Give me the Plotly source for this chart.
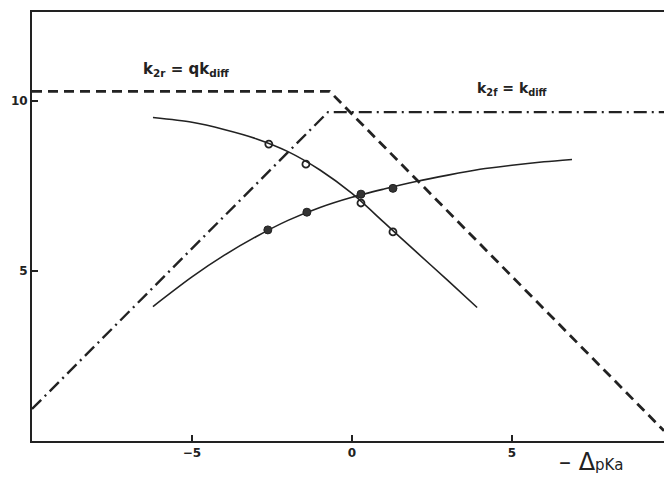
import plotly.graph_objects as go

# Limiting lines
k2r_x = [-10.0, -0.7, 9.75]
k2r_y = [10.27, 10.27, 0.3]
k2f_x = [-10.0, -0.75, 9.75]
k2f_y = [0.94, 9.66, 9.66]

# Smooth curves
dec_x = [-6.22, -5, -4, -3, -2, -1, 0, 1, 2, 3, 3.91]
dec_y = [9.50, 9.36, 9.15, 8.88, 8.50, 7.96, 7.27, 6.42, 5.56, 4.71, 3.92]
inc_x = [-6.22, -5, -4, -3, -2, -1, 0, 1, 2, 3, 4, 5, 6, 6.875]
inc_y = [3.95, 4.82, 5.45, 6.00, 6.48, 6.86, 7.16, 7.40, 7.62, 7.81, 7.98, 8.10, 8.20, 8.27]

# Data points
open_x = [-2.6, -1.44, 0.28, 1.28]
open_y = [8.72, 8.13, 6.99, 6.14]
fill_x = [-2.63, -1.41, 0.28, 1.28]
fill_y = [6.20, 6.72, 7.25, 7.42]

xticks = [-5, 0, 5]
yticks = [5, 10]

ink = "#222222"
fig = go.Figure()
fig.add_trace(go.Scatter(x=k2r_x, y=k2r_y, mode="lines",
                         line=dict(color=ink, width=2.8, dash="10px,6px")))
fig.add_trace(go.Scatter(x=k2f_x, y=k2f_y, mode="lines",
                         line=dict(color=ink, width=2.4, dash="13px,5px,2px,5px")))
fig.add_trace(go.Scatter(x=dec_x, y=dec_y, mode="lines",
                         line=dict(color=ink, width=1.6, shape="spline", smoothing=0.8)))
fig.add_trace(go.Scatter(x=inc_x, y=inc_y, mode="lines",
                         line=dict(color=ink, width=1.6, shape="spline", smoothing=0.8)))
fig.add_trace(go.Scatter(x=open_x, y=open_y, mode="markers",
                         marker=dict(symbol="circle-open", size=7, color=ink,
                                     line=dict(width=1.8, color=ink))))
fig.add_trace(go.Scatter(x=fill_x, y=fill_y, mode="markers",
                         marker=dict(symbol="circle", size=8, color="#333333",
                                     line=dict(width=1, color=ink))))

font_b = dict(family="DejaVu Sans, Liberation Sans, sans-serif", color=ink, weight="bold")
fig.add_annotation(x=-5.2, y=10.9, xref="x", yref="y", showarrow=False,
                   text="k<sub>2r</sub> = qk<sub>diff</sub>",
                   font=dict(size=15, **font_b))
fig.add_annotation(x=5.0, y=10.35, xref="x", yref="y", showarrow=False,
                   text="k<sub>2f</sub> = k<sub>diff</sub>",
                   font=dict(size=14, **font_b))
fig.add_annotation(x=0.885, y=-0.048, xref="paper", yref="paper", showarrow=False,
                   xanchor="center", yanchor="middle",
                   text="– Δ<span style='font-size:15px'>pKa</span>",
                   font=dict(size=24, family="DejaVu Sans, sans-serif", color=ink))

fig.update_layout(
    width=664, height=479,
    margin=dict(l=32, r=0, t=12, b=38),
    paper_bgcolor="white", plot_bgcolor="white",
    showlegend=False,
    xaxis=dict(range=[-10, 9.75], tickvals=xticks, ticks="inside", ticklen=6,
               tickcolor=ink, tickwidth=1.5, showline=True, linecolor=ink,
               linewidth=2, mirror=True, showgrid=False, zeroline=False,
               tickfont=dict(size=12, **font_b)),
    yaxis=dict(range=[0, 12.6], tickvals=yticks, ticks="inside", ticklen=6,
               tickcolor=ink, tickwidth=1.5, showline=True, linecolor=ink,
               linewidth=2, mirror=False, showgrid=False, zeroline=False,
               tickfont=dict(size=12, **font_b)),
)
fig.write_html("out.html", config={"displayModeBar": False},
               post_script="document.body.style.margin='0';document.body.style.overflow='hidden';")
